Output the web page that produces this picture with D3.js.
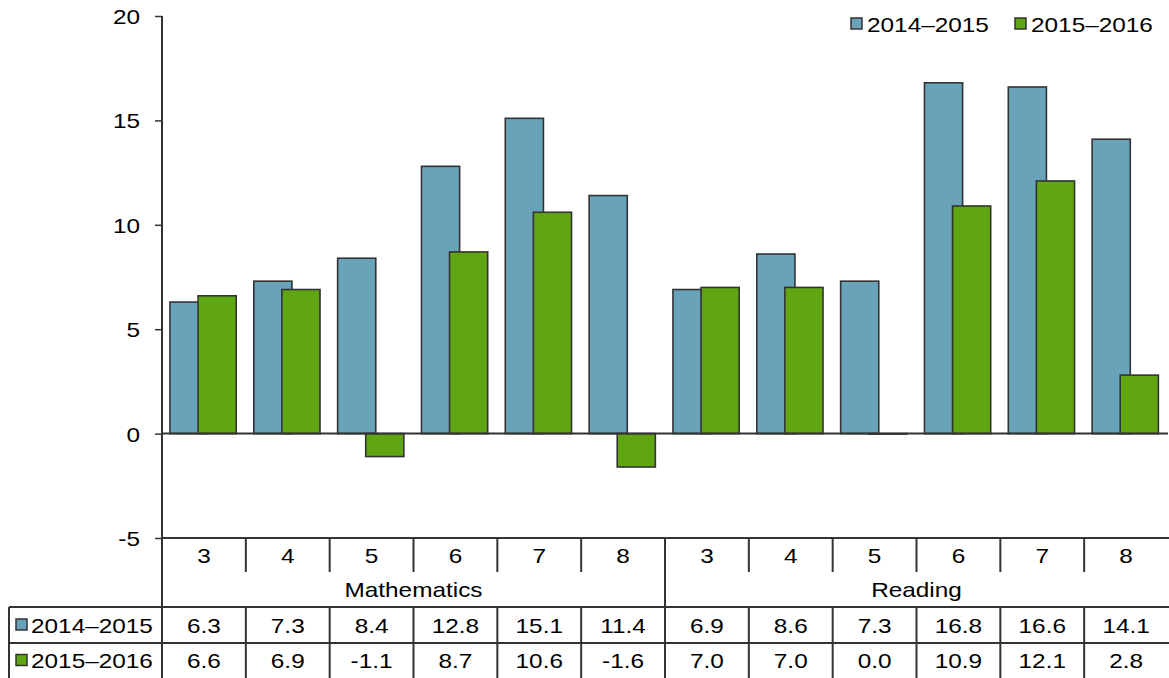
<!DOCTYPE html>
<html>
<head>
<meta charset="utf-8">
<script src="https://cdn.jsdelivr.net/npm/d3@7"></script>
<style>
  html, body { margin: 0; padding: 0; background: #fff; }
  svg { display: block; font-family: "Liberation Sans", Arial, sans-serif; }
</style>
</head>
<body>
<svg id="chart" width="1169" height="678"></svg>
<script>
// Grade-level data grouped by subject
const subjects = ["Mathematics", "Reading"];
const grades = ["3", "4", "5", "6", "7", "8"];
const seriesNames = ["2014–2015", "2015–2016"];
const values2014 = [6.3, 7.3, 8.4, 12.8, 15.1, 11.4, 6.9, 8.6, 7.3, 16.8, 16.6, 14.1];
const values2016 = [6.6, 6.9, -1.1, 8.7, 10.6, -1.6, 7.0, 7.0, 0.0, 10.9, 12.1, 2.8];
const yTicks = [-5, 0, 5, 10, 15, 20];

const colors = ["#68A3BA", "#5FA612"];
const stroke = "#333";

const categories = [];
subjects.forEach(s => grades.forEach(g => categories.push({ subject: s, grade: g, key: s + "-" + g })));
const series = [values2014, values2016];

const svg = d3.select("#chart");
const plotLeft = 162, plotRight = 1168, plotTop = 16, axisBottom = 538;
const tableLeft = 9;
const rowCat = [538, 572], rowSub = [572, 607], rowS1 = [607, 643], rowS2 = [643, 678];

const x = d3.scaleBand().domain(categories.map(d => d.key)).range([plotLeft, plotRight]);
const y = d3.scaleLinear().domain([-5, 20]).range([axisBottom, plotTop]);

const bw = x.bandwidth();
const barW = bw * 0.455;
const offsets = [bw * 0.095, bw * 0.43];

const fs = 21;
const stretch = 1.16;

// Text with a slightly wide letterform
function label(parent, px, py, str, anchor) {
  return parent.append("text")
    .attr("transform", `translate(${px},${py}) scale(${stretch},1)`)
    .attr("dy", "0.36em")
    .attr("text-anchor", anchor || "middle")
    .attr("font-size", fs)
    .attr("fill", "#000")
    .text(str);
}

// Bars
series.forEach((vals, si) => {
  svg.append("g").selectAll("rect")
    .data(categories.map((c, i) => ({ key: c.key, v: vals[i] })))
    .join("rect")
    .attr("x", d => x(d.key) + offsets[si])
    .attr("width", barW)
    .attr("y", d => y(Math.max(0, d.v)))
    .attr("height", d => Math.max(Math.abs(y(d.v) - y(0)), 0.5))
    .attr("fill", colors[si])
    .attr("stroke", stroke)
    .attr("stroke-width", 1.6);
});

// Zero line
svg.append("line")
  .attr("x1", plotLeft).attr("x2", plotRight)
  .attr("y1", y(0)).attr("y2", y(0))
  .attr("stroke", stroke).attr("stroke-width", 2);

// Y axis
const yAxis = svg.append("g").attr("transform", `translate(${plotLeft},0)`)
  .call(d3.axisLeft(y).tickValues(yTicks).tickSize(7).tickFormat(d => String(d)));
yAxis.select(".domain").remove();
yAxis.selectAll(".tick line").attr("stroke", stroke).attr("stroke-width", 1.5);
yAxis.selectAll(".tick text").remove();
yAxis.selectAll(".tick").each(function (d) {
  label(d3.select(this), -22, 0, String(d), "end");
});
svg.append("line")
  .attr("x1", plotLeft).attr("x2", plotLeft).attr("y1", plotTop).attr("y2", 678)
  .attr("stroke", stroke).attr("stroke-width", 2);

// Table grid lines
const grid = svg.append("g").attr("stroke", stroke).attr("stroke-width", 2);
grid.append("line").attr("x1", plotLeft).attr("x2", plotRight + 1).attr("y1", axisBottom).attr("y2", axisBottom);
grid.append("line").attr("x1", tableLeft).attr("x2", plotRight + 1).attr("y1", rowS1[0]).attr("y2", rowS1[0]);
grid.append("line").attr("x1", tableLeft).attr("x2", plotRight + 1).attr("y1", rowS2[0]).attr("y2", rowS2[0]);
grid.append("line").attr("x1", tableLeft).attr("x2", tableLeft).attr("y1", rowS1[0]).attr("y2", 678);

categories.forEach((c, i) => {
  if (i === 0) return;
  const xx = x(c.key);
  const subjectEdge = c.grade === grades[0];
  grid.append("line").attr("x1", xx).attr("x2", xx)
    .attr("y1", axisBottom).attr("y2", subjectEdge ? 678 : rowCat[1]);
  if (!subjectEdge) {
    grid.append("line").attr("x1", xx).attr("x2", xx).attr("y1", rowS1[0]).attr("y2", 678);
  }
});

const txt = svg.append("g");

// Grade labels
categories.forEach(c => {
  label(txt, x(c.key) + bw / 2, (rowCat[0] + rowCat[1]) / 2, c.grade);
});
// Subject labels
subjects.forEach(s => {
  const first = x(s + "-" + grades[0]);
  const last = x(s + "-" + grades[grades.length - 1]) + bw;
  label(txt, (first + last) / 2, (rowSub[0] + rowSub[1]) / 2, s);
});
// Value rows
[rowS1, rowS2].forEach((row, si) => {
  const cy = (row[0] + row[1]) / 2;
  categories.forEach((c, i) => {
    label(txt, x(c.key) + bw / 2, cy, series[si][i].toFixed(1));
  });
  svg.append("rect").attr("x", 16).attr("y", cy - 6).attr("width", 11).attr("height", 11)
    .attr("fill", colors[si]).attr("stroke", stroke).attr("stroke-width", 1.5);
  label(svg, 31, cy, seriesNames[si], "start");
});

// Legend
const legendX = [851, 1015];
seriesNames.forEach((n, si) => {
  svg.append("rect").attr("x", legendX[si]).attr("y", 18).attr("width", 11).attr("height", 11)
    .attr("fill", colors[si]).attr("stroke", stroke).attr("stroke-width", 1.5);
  label(svg, legendX[si] + 16, 24, n, "start");
});
</script>
</body>
</html>
